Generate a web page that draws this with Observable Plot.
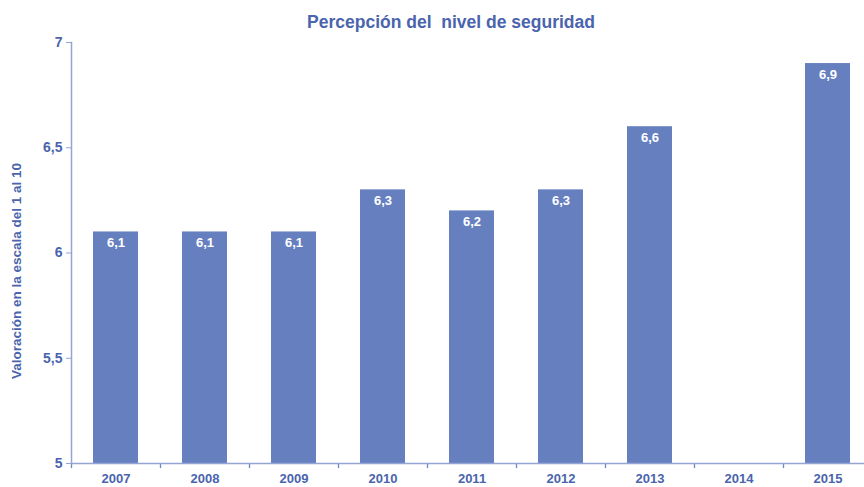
<!DOCTYPE html>
<html><head><meta charset="utf-8">
<script src="https://cdn.jsdelivr.net/npm/d3@7"></script>
<script src="https://cdn.jsdelivr.net/npm/@observablehq/plot@0.6"></script>
<style>
body{margin:0;background:#fff;font-family:"Liberation Sans",Arial,sans-serif;}
#title{height:30px;width:864px;box-sizing:border-box;padding-left:38px;text-align:center;font-weight:bold;font-size:17.5px;color:#4a64ad;line-height:44px;}
</style></head>
<body>
<div id="title">Percepción del&nbsp; nivel de seguridad</div>
<div id="chart"></div>
<script>
const years = ["2007","2008","2009","2010","2011","2012","2013","2014","2015"];
const values = [6.1, 6.1, 6.1, 6.3, 6.2, 6.3, 6.6, null, 6.9];
const yTicks = [5, 5.5, 6, 6.5, 7];
const yLabel = "Valoración en la escala del 1 al 10";

const data = years.map((y, i) => ({year: y, value: values[i]}));
const present = data.filter(d => d.value != null);
const fmt = v => String(v).replace(".", ",");

const textColor = "#4a64ad";
const barColor = "#6680bf";
const axisColor = "#94a5d4";

const W = 864, H = 457;
const xRange = [71, 872];
const step = (xRange[1] - xRange[0]) / years.length;

const chart = Plot.plot({
  width: W, height: H,
  marginLeft: 71, marginRight: 0, marginTop: 12, marginBottom: 24,
  style: {fontFamily: "'Liberation Sans', Arial, sans-serif", color: textColor, background: "#fff"},
  x: {domain: years, range: xRange, padding: 0.5, paddingOuter: 0.25, label: null},
  y: {domain: [5, 7], label: yLabel, labelAnchor: "center", labelArrow: "none"},
  marks: [
    Plot.barY(present, {x: "year", y1: () => 5, y2: "value", fill: barColor, inset: 0}),
    Plot.text(present, {x: "year", y: "value", text: d => fmt(d.value), dy: 11, fill: "white", fontWeight: "bold", fontSize: 13}),
    Plot.ruleX(years, {x: d => d, y1: 5, y2: 4.976, dx: -step / 2, stroke: "#6f86c4", strokeWidth: 1.3}),
    Plot.ruleY([5], {stroke: axisColor, strokeWidth: 1.5}),
    Plot.frame({anchor: "left", stroke: axisColor, strokeWidth: 1.5}),
    Plot.axisX({tickSize: 0, tickPadding: 10, fontSize: 13, fontWeight: "bold", fill: textColor, label: null}),
    Plot.axisY({ticks: yTicks, tickFormat: fmt, tickSize: 5, tickPadding: 4, fontSize: 14, fontWeight: "bold", fill: textColor, stroke: axisColor,
      label: yLabel, labelAnchor: "center", labelArrow: "none", labelOffset: 60})
  ]
});
document.getElementById("chart").appendChild(chart);
// shift the y-axis title to sit where it does in the reference and enlarge it
const lab = d3.select(chart).selectAll('g[aria-label="y-axis label"] text');
lab.attr("font-size", 13.5).attr("font-weight", "bold").attr("fill", textColor);
d3.select(chart).select('g[aria-label="y-axis label"]').attr("transform", function(){
  const t = this.getAttribute("transform") || "";
  return t + " translate(0,18)";
});
</script>
</body></html>
